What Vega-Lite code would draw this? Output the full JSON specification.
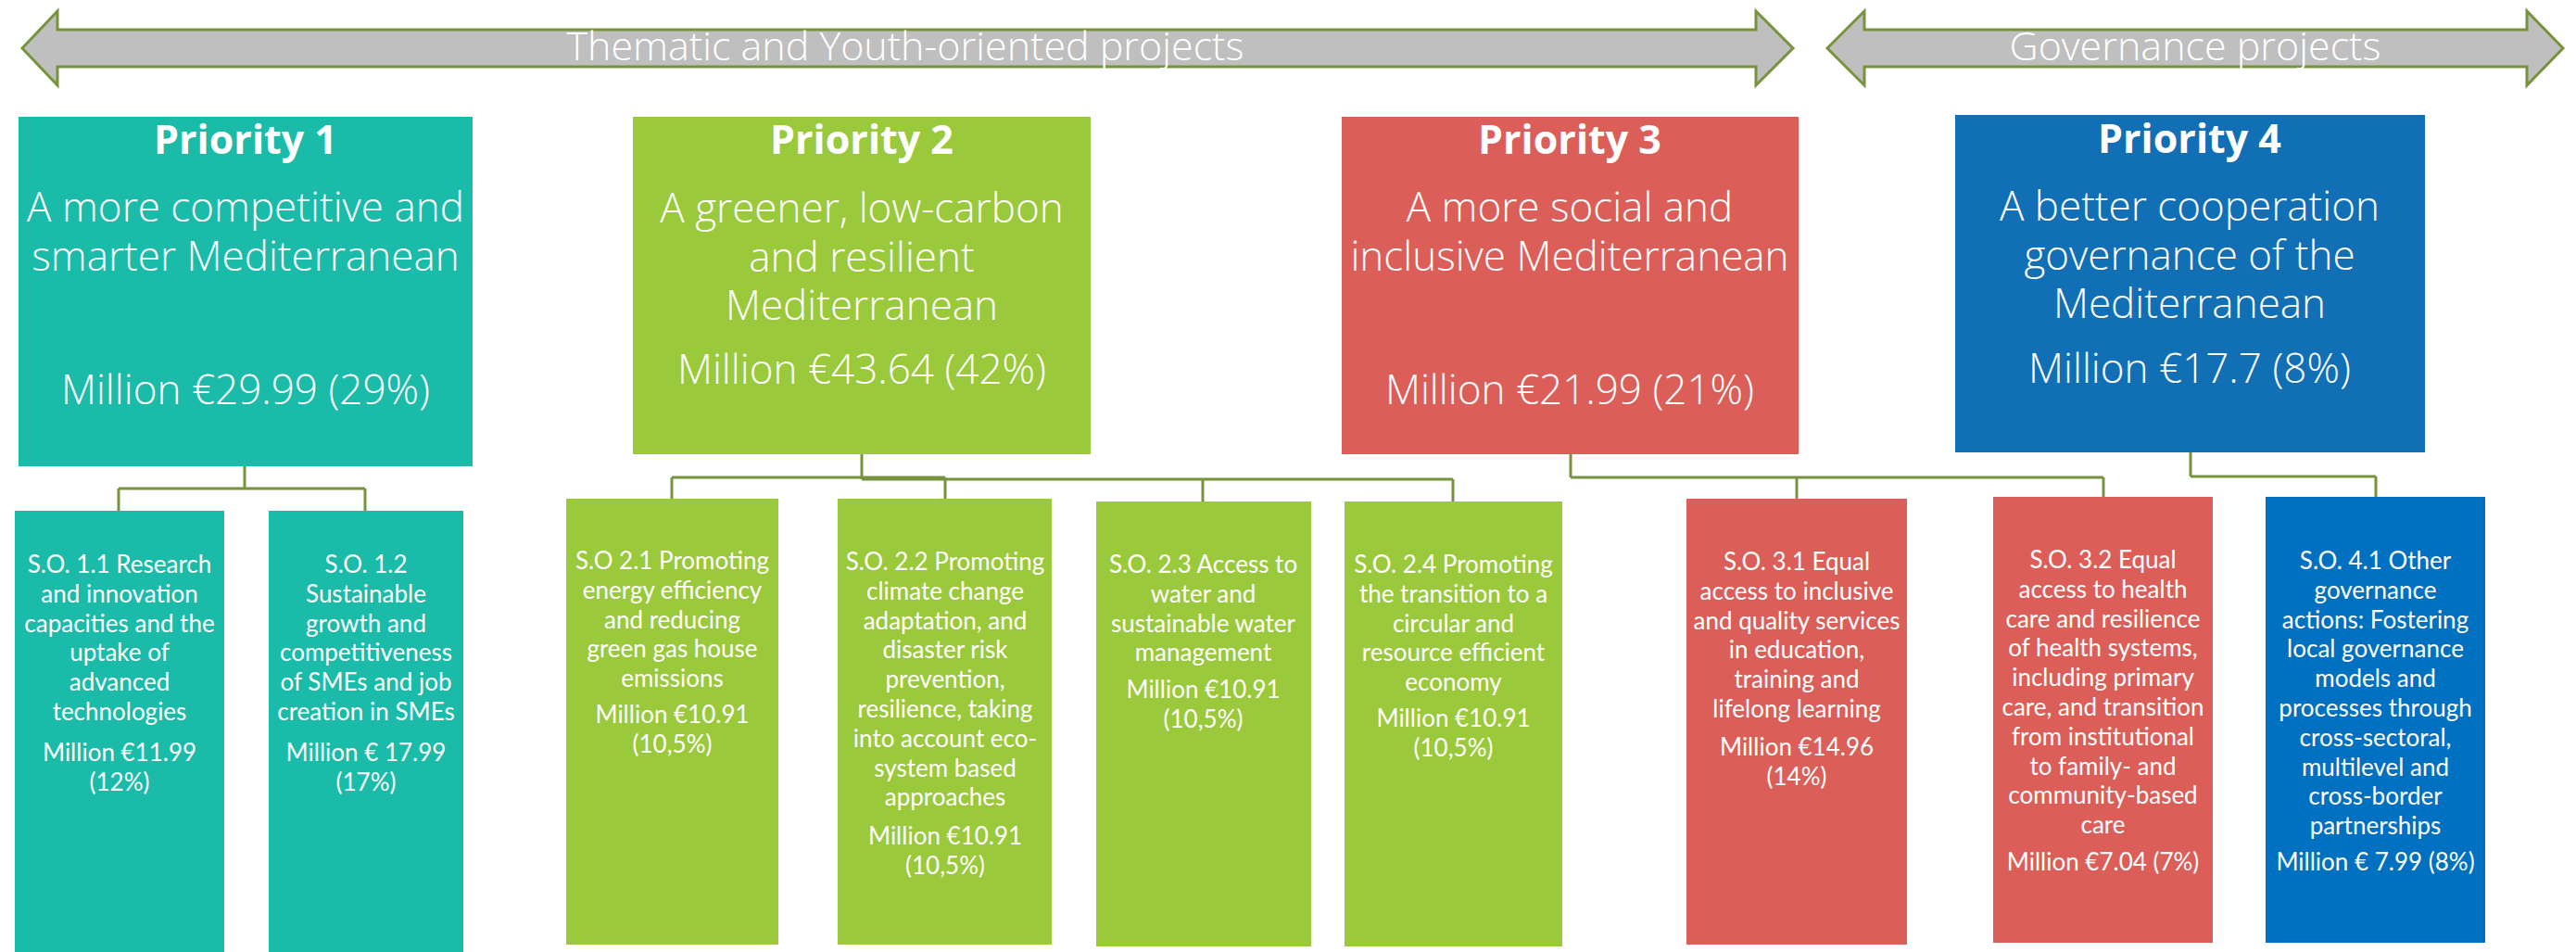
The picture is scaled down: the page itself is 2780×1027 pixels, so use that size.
{
  "$schema": "https://vega.github.io/schema/vega-lite/v6.json",
  "width": 2780,
  "height": 1027,
  "padding": 0,
  "autosize": {"type": "fit", "contains": "padding"},
  "background": "white",
  "view": {"stroke": null},
  "config": {"text": {"lineBreak": "\n"}},
  "datasets": {
    "arrows": [
      {"arrow": "thematic", "x": 24, "top": 52, "bottom": 52},
      {"arrow": "thematic", "x": 62, "top": 12, "bottom": 92},
      {"arrow": "thematic", "x": 62.01, "top": 32, "bottom": 72},
      {"arrow": "thematic", "x": 1895, "top": 32, "bottom": 72},
      {"arrow": "thematic", "x": 1895.01, "top": 12, "bottom": 92},
      {"arrow": "thematic", "x": 1935, "top": 52, "bottom": 52},
      {"arrow": "governance", "x": 1972, "top": 52, "bottom": 52},
      {"arrow": "governance", "x": 2012, "top": 12, "bottom": 92},
      {"arrow": "governance", "x": 2012.01, "top": 32, "bottom": 72},
      {"arrow": "governance", "x": 2727, "top": 32, "bottom": 72},
      {"arrow": "governance", "x": 2727.01, "top": 12, "bottom": 92},
      {"arrow": "governance", "x": 2766, "top": 52, "bottom": 52}
    ],
    "priorities": [
      {"priority": "Priority 1", "x0": 20, "x1": 510, "y0": 126, "y1": 503},
      {"priority": "Priority 2", "x0": 683, "x1": 1177, "y0": 126, "y1": 490},
      {"priority": "Priority 3", "x0": 1448, "x1": 1941, "y0": 126, "y1": 490},
      {"priority": "Priority 4", "x0": 2110, "x1": 2617, "y0": 124, "y1": 488}
    ],
    "objectives": [
      {"objective": "S.O. 1.1", "priority": "Priority 1", "x0": 16, "x1": 242, "y0": 551, "y1": 1027},
      {"objective": "S.O. 1.2", "priority": "Priority 1", "x0": 290, "x1": 500, "y0": 551, "y1": 1027},
      {"objective": "S.O. 2.1", "priority": "Priority 2", "x0": 611, "x1": 840, "y0": 538, "y1": 1019},
      {"objective": "S.O. 2.2", "priority": "Priority 2", "x0": 904, "x1": 1135, "y0": 538, "y1": 1019},
      {"objective": "S.O. 2.3", "priority": "Priority 2", "x0": 1183, "x1": 1415, "y0": 541, "y1": 1021},
      {"objective": "S.O. 2.4", "priority": "Priority 2", "x0": 1451, "x1": 1686, "y0": 541, "y1": 1021},
      {"objective": "S.O. 3.1", "priority": "Priority 3", "x0": 1820, "x1": 2058, "y0": 538, "y1": 1019},
      {"objective": "S.O. 3.2", "priority": "Priority 3", "x0": 2151, "x1": 2388, "y0": 536, "y1": 1017},
      {"objective": "S.O. 4.1", "priority": "Priority 4", "x0": 2445, "x1": 2682, "y0": 536, "y1": 1017}
    ],
    "connectors": [
      {"x0": 264, "y0": 503, "x1": 264, "y1": 527},
      {"x0": 128, "y0": 527, "x1": 394, "y1": 527},
      {"x0": 128, "y0": 527, "x1": 128, "y1": 551},
      {"x0": 394, "y0": 527, "x1": 394, "y1": 551},
      {"x0": 930, "y0": 490, "x1": 930, "y1": 517},
      {"x0": 725, "y0": 515, "x1": 1020, "y1": 515},
      {"x0": 930, "y0": 517, "x1": 1568, "y1": 517},
      {"x0": 725, "y0": 515, "x1": 725, "y1": 538},
      {"x0": 1020, "y0": 515, "x1": 1020, "y1": 538},
      {"x0": 1298, "y0": 517, "x1": 1298, "y1": 541},
      {"x0": 1568, "y0": 517, "x1": 1568, "y1": 541},
      {"x0": 1695, "y0": 490, "x1": 1695, "y1": 515},
      {"x0": 1695, "y0": 515, "x1": 2270, "y1": 515},
      {"x0": 1939, "y0": 515, "x1": 1939, "y1": 538},
      {"x0": 2270, "y0": 515, "x1": 2270, "y1": 536},
      {"x0": 2364, "y0": 488, "x1": 2364, "y1": 514},
      {"x0": 2364, "y0": 514, "x1": 2564, "y1": 514},
      {"x0": 2564, "y0": 514, "x1": 2564, "y1": 536}
    ],
    "labels": [
      {"kind": "banner", "x": 977, "y": 52, "text": "Thematic and Youth-oriented projects"},
      {"kind": "banner", "x": 2369, "y": 52, "text": "Governance projects"},
      {"kind": "heading", "x": 265, "y": 153, "text": "Priority 1"},
      {"kind": "heading", "x": 930, "y": 153, "text": "Priority 2"},
      {"kind": "heading", "x": 1694, "y": 153, "text": "Priority 3"},
      {"kind": "heading", "x": 2363, "y": 152, "text": "Priority 4"},
      {"kind": "title", "x": 265, "y": 226, "text": "A more competitive and\nsmarter Mediterranean"},
      {"kind": "title", "x": 930, "y": 227, "text": "A greener, low-carbon\nand resilient\nMediterranean"},
      {"kind": "title", "x": 1694, "y": 226, "text": "A more social and\ninclusive Mediterranean"},
      {"kind": "title", "x": 2363, "y": 225, "text": "A better cooperation\ngovernance of the\nMediterranean"},
      {"kind": "title", "x": 265, "y": 423, "text": "Million €29.99 (29%)"},
      {"kind": "title", "x": 930, "y": 401, "text": "Million €43.64 (42%)"},
      {"kind": "title", "x": 1694, "y": 423, "text": "Million €21.99 (21%)"},
      {"kind": "title", "x": 2363, "y": 400, "text": "Million €17.7 (8%)"},
      {"kind": "so", "x": 129, "y": 610, "text": "S.O. 1.1 Research\nand innovation\ncapacities and the\nuptake of\nadvanced\ntechnologies"},
      {"kind": "so", "x": 129, "y": 813, "text": "Million €11.99\n(12%)"},
      {"kind": "so", "x": 395, "y": 610, "text": "S.O. 1.2\nSustainable\ngrowth and\ncompetitiveness\nof SMEs and job\ncreation in SMEs"},
      {"kind": "so", "x": 395, "y": 813, "text": "Million € 17.99\n(17%)"},
      {"kind": "so", "x": 725.5, "y": 606, "text": "S.O 2.1 Promoting\nenergy efficiency\nand reducing\ngreen gas house\nemissions"},
      {"kind": "so", "x": 725.5, "y": 772, "text": "Million €10.91\n(10,5%)"},
      {"kind": "so", "x": 1020, "y": 607, "text": "S.O. 2.2 Promoting\nclimate change\nadaptation, and\ndisaster risk\nprevention,\nresilience, taking\ninto account eco-\nsystem based\napproaches"},
      {"kind": "so", "x": 1020, "y": 903, "text": "Million €10.91\n(10,5%)"},
      {"kind": "so", "x": 1298.5, "y": 610, "text": "S.O. 2.3 Access to\nwater and\nsustainable water\nmanagement"},
      {"kind": "so", "x": 1298.5, "y": 745, "text": "Million €10.91\n(10,5%)"},
      {"kind": "so", "x": 1568.5, "y": 610, "text": "S.O. 2.4 Promoting\nthe transition to a\ncircular and\nresource efficient\neconomy"},
      {"kind": "so", "x": 1568.5, "y": 776, "text": "Million €10.91\n(10,5%)"},
      {"kind": "so", "x": 1939, "y": 607, "text": "S.O. 3.1 Equal\naccess to inclusive\nand quality services\nin education,\ntraining and\nlifelong learning"},
      {"kind": "so", "x": 1939, "y": 807, "text": "Million €14.96\n(14%)"},
      {"kind": "so", "x": 2269.5, "y": 605, "text": "S.O. 3.2 Equal\naccess to health\ncare and resilience\nof health systems,\nincluding primary\ncare, and transition\nfrom institutional\nto family- and\ncommunity-based\ncare"},
      {"kind": "so", "x": 2269.5, "y": 931, "text": "Million €7.04 (7%)"},
      {"kind": "so", "x": 2563.5, "y": 606, "text": "S.O. 4.1 Other\ngovernance\nactions: Fostering\nlocal governance\nmodels and\nprocesses through\ncross-sectoral,\nmultilevel and\ncross-border\npartnerships"},
      {"kind": "so", "x": 2563.5, "y": 931, "text": "Million € 7.99 (8%)"}
    ]
  },
  "resolve": {"scale": {"color": "independent"}},
  "layer": [
    {
      "data": {"name": "arrows"},
      "mark": {"type": "area", "orient": "vertical", "fill": "#BFBFBF", "stroke": "#77933C", "strokeWidth": 3, "strokeJoin": "miter", "line": false},
      "encoding": {
        "x": {"field": "x", "type": "quantitative", "scale": {"domain": [0, 2780], "nice": false, "zero": false}, "axis": null},
        "y": {"field": "top", "type": "quantitative", "scale": {"domain": [0, 1027], "nice": false, "zero": false, "reverse": true}, "axis": null},
        "y2": {"field": "bottom"},
        "detail": {"field": "arrow", "type": "nominal"}
      }
    },
    {
      "data": {"name": "priorities"},
      "mark": {"type": "rect"},
      "encoding": {
        "x": {"field": "x0", "type": "quantitative"},
        "x2": {"field": "x1"},
        "y": {"field": "y0", "type": "quantitative"},
        "y2": {"field": "y1"},
        "color": {"field": "priority", "type": "nominal", "legend": null,
          "scale": {"domain": ["Priority 1", "Priority 2", "Priority 3", "Priority 4"], "range": ["#1ABBA9", "#9BC93C", "#DB5E58", "#116FB6"]}}
      }
    },
    {
      "data": {"name": "objectives"},
      "mark": {"type": "rect"},
      "encoding": {
        "x": {"field": "x0", "type": "quantitative"},
        "x2": {"field": "x1"},
        "y": {"field": "y0", "type": "quantitative"},
        "y2": {"field": "y1"},
        "color": {"field": "priority", "type": "nominal", "legend": null,
          "scale": {"domain": ["Priority 1", "Priority 2", "Priority 3", "Priority 4"], "range": ["#1ABBA9", "#9BC93C", "#DB5E58", "#0070C0"]}}
      }
    },
    {
      "data": {"name": "connectors"},
      "mark": {"type": "rule", "color": "#77933C", "strokeWidth": 3},
      "encoding": {
        "x": {"field": "x0", "type": "quantitative"},
        "x2": {"field": "x1"},
        "y": {"field": "y0", "type": "quantitative"},
        "y2": {"field": "y1"}
      }
    },
    {
      "data": {"name": "labels"},
      "transform": [{"filter": "datum.kind === 'banner'"}],
      "mark": {"type": "text", "font": "Open Sans", "fontSize": 43, "fontWeight": 300, "color": "white", "align": "center", "baseline": "middle"},
      "encoding": {
        "x": {"field": "x", "type": "quantitative"},
        "y": {"field": "y", "type": "quantitative"},
        "text": {"field": "text", "type": "nominal"}
      }
    },
    {
      "data": {"name": "labels"},
      "transform": [{"filter": "datum.kind === 'heading'"}],
      "mark": {"type": "text", "font": "Open Sans", "fontSize": 43, "fontWeight": "bold", "color": "white", "align": "center", "baseline": "middle"},
      "encoding": {
        "x": {"field": "x", "type": "quantitative"},
        "y": {"field": "y", "type": "quantitative"},
        "text": {"field": "text", "type": "nominal"}
      }
    },
    {
      "data": {"name": "labels"},
      "transform": [{"filter": "datum.kind === 'title'"}],
      "mark": {"type": "text", "font": "Open Sans", "fontSize": 44, "fontWeight": 300, "lineHeight": 52.5, "color": "white", "align": "center", "baseline": "middle"},
      "encoding": {
        "x": {"field": "x", "type": "quantitative"},
        "y": {"field": "y", "type": "quantitative"},
        "text": {"field": "text", "type": "nominal"}
      }
    },
    {
      "data": {"name": "labels"},
      "transform": [{"filter": "datum.kind === 'so'"}],
      "mark": {"type": "text", "font": "Lato", "fontSize": 26, "lineHeight": 31.8, "color": "white", "align": "center", "baseline": "middle"},
      "encoding": {
        "x": {"field": "x", "type": "quantitative"},
        "y": {"field": "y", "type": "quantitative"},
        "text": {"field": "text", "type": "nominal"}
      }
    }
  ]
}
